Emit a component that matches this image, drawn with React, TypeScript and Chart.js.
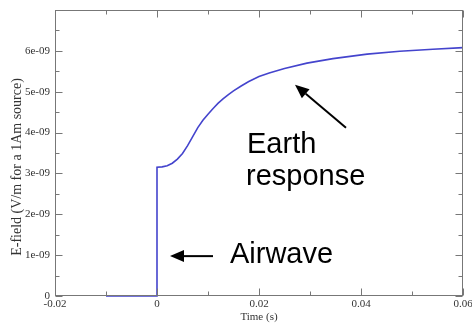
import { useEffect, useRef } from "react";
import { Chart, registerables } from "chart.js";

Chart.register(...registerables);

// Time axis (s)
const timeS = [
  -0.01, 0, 0, 0.001, 0.002, 0.003, 0.004, 0.005, 0.006, 0.007, 0.008, 0.009,
  0.01, 0.011, 0.012, 0.013, 0.014, 0.015, 0.0165, 0.018, 0.02, 0.022, 0.025,
  0.0294, 0.0345, 0.0412, 0.0476, 0.0541, 0.06,
];
// E-field in units of 1e-09 V/m
const eFieldE9 = [
  0, 0, 3.15, 3.16, 3.19, 3.25, 3.35, 3.49, 3.68, 3.9, 4.12, 4.3,
  4.45, 4.59, 4.72, 4.83, 4.93, 5.02, 5.14, 5.25, 5.37, 5.46, 5.57,
  5.7, 5.81, 5.92, 5.99, 6.04, 6.08,
];

const xMin = -0.02;
const xMax = 0.06;
const xStep = 0.01;
const yMinE9 = 0;
const yMaxE9 = 7;
const yStepE9 = 0.5;

const xTitle = "Time (s)";
const yTitle = "E-field (V/m for a 1Am source)";

// annotation labels: [text, time, value(1e-09)]
const earthLines = ["Earth", "response"];
const earthLineTimes = [0.01765, 0.01745];
const earthLineValues = [3.51, 2.71];
const airwaveLabel = "Airwave";
const airwaveAt = [0.01431, 0.8];
// arrows: [tailT, tailV, tipT, tipV]
const earthArrow = [0.03706, 4.12, 0.02706, 5.17];
const airwaveArrow = [0.01098, 0.976, 0.00255, 0.976];

const SERIF = '"Liberation Serif", "Times New Roman", serif';
const SANS = '"Liberation Sans", Arial, sans-serif';
const FRAME = "#777777";
const TEXT = "#333333";
const LINE = "rgb(68, 68, 205)";

function fmtX(v: number): string {
  const k = Math.round(v * 100);
  if (k % 2 !== 0) return "";
  if (k === 0) return "0";
  return (k / 100).toFixed(2);
}
function fmtY(v: number): string {
  const k = Math.round(v * 2e9);
  if (k % 2 !== 0) return "";
  const n = k / 2;
  if (n >= 7) return "";
  if (n === 0) return "0";
  return n + "e-09";
}

function drawArrow(ctx: CanvasRenderingContext2D, x1: number, y1: number, x2: number, y2: number) {
  const ang = Math.atan2(y2 - y1, x2 - x1);
  const hl = 14;
  const hw = 6;
  const bx = x2 - hl * Math.cos(ang);
  const by = y2 - hl * Math.sin(ang);
  ctx.beginPath();
  ctx.moveTo(x1, y1);
  ctx.lineTo(bx, by);
  ctx.stroke();
  ctx.beginPath();
  ctx.moveTo(x2, y2);
  ctx.lineTo(bx + hw * Math.sin(ang), by - hw * Math.cos(ang));
  ctx.lineTo(bx - hw * Math.sin(ang), by + hw * Math.cos(ang));
  ctx.closePath();
  ctx.fill();
}

const framePlugin = {
  id: "frameTicksAnnot",
  afterDraw(chart: any) {
    const { ctx, chartArea: a, scales } = chart;
    const xs = scales.x;
    const ys = scales.y;
    ctx.save();
    // frame
    ctx.strokeStyle = FRAME;
    ctx.lineWidth = 1;
    const L = Math.round(a.left) + 0.5;
    const R = Math.round(a.right) - 0.5;
    const T = Math.round(a.top) + 0.5;
    const B = Math.round(a.bottom) - 0.5;
    ctx.strokeRect(L, T, R - L, B - T);
    // inward ticks
    ctx.beginPath();
    for (const t of xs.ticks) {
      const px = Math.round(xs.getPixelForValue(t.value)) + 0.5;
      const major = Math.round(t.value * 100) % 2 === 0;
      const len = major ? 7 : 4;
      ctx.moveTo(px, B);
      ctx.lineTo(px, B - len);
      ctx.moveTo(px, T);
      ctx.lineTo(px, T + len);
    }
    for (const t of ys.ticks) {
      const py = Math.round(ys.getPixelForValue(t.value)) + 0.5;
      const major = Math.round(t.value * 2e9) % 2 === 0;
      const len = major ? 7 : 4;
      ctx.moveTo(L, py);
      ctx.lineTo(L + len, py);
      ctx.moveTo(R, py);
      ctx.lineTo(R - len, py);
    }
    ctx.stroke();

    // y axis title
    ctx.fillStyle = TEXT;
    ctx.font = "14px " + SERIF;
    ctx.textAlign = "center";
    ctx.textBaseline = "middle";
    ctx.translate(17, 167);
    ctx.rotate(-Math.PI / 2);
    ctx.fillText(yTitle, 0, 0);
    ctx.setTransform(1, 0, 0, 1, 0, 0);

    // annotations
    ctx.fillStyle = "#000";
    ctx.strokeStyle = "#000";
    ctx.font = "29px " + SANS;
    ctx.textAlign = "left";
    ctx.textBaseline = "alphabetic";
    earthLines.forEach((s, i) => {
      ctx.fillText(s, xs.getPixelForValue(earthLineTimes[i]), ys.getPixelForValue(earthLineValues[i] * 1e-9));
    });
    ctx.fillText(airwaveLabel, xs.getPixelForValue(airwaveAt[0]), ys.getPixelForValue(airwaveAt[1] * 1e-9));
    ctx.lineWidth = 2;
    for (const ar of [earthArrow, airwaveArrow]) {
      drawArrow(
        ctx,
        xs.getPixelForValue(ar[0]),
        ys.getPixelForValue(ar[1] * 1e-9),
        xs.getPixelForValue(ar[2]),
        ys.getPixelForValue(ar[3] * 1e-9)
      );
    }
    ctx.restore();
  },
};

export default function App() {
  const ref = useRef<HTMLCanvasElement | null>(null);
  useEffect(() => {
    if (!ref.current) return;
    const points = timeS.map((t, i) => ({ x: t, y: eFieldE9[i] * 1e-9 }));
    const chart = new Chart(ref.current, {
      type: "line",
      data: {
        datasets: [
          {
            data: points,
            borderColor: LINE,
            borderWidth: 1.6,
            pointRadius: 0,
            tension: 0,
            fill: false,
            clip: false,
          } as any,
        ],
      },
      options: {
        animation: false,
        responsive: false,
        maintainAspectRatio: false,
        layout: { padding: { top: 10, right: 9, left: 0, bottom: 0 } },
        plugins: { legend: { display: false }, tooltip: { enabled: false } },
        scales: {
          x: {
            type: "linear",
            min: xMin,
            max: xMax,
            grid: { display: false, drawTicks: false },
            border: { display: false },
            ticks: {
              stepSize: xStep,
              autoSkip: false,
              maxRotation: 0,
              padding: 2,
              color: TEXT,
              font: { family: SERIF, size: 11 },
              callback: (v: any) => fmtX(Number(v)),
            },
            title: {
              display: true,
              text: xTitle,
              color: TEXT,
              font: { family: SERIF, size: 11 },
              padding: { top: 0, bottom: 0 },
            },
            afterFit: (s: any) => {
              s.height = 28;
              s.paddingLeft = 0;
              s.paddingRight = 0;
            },
          },
          y: {
            type: "linear",
            min: yMinE9 * 1e-9,
            max: yMaxE9 * 1e-9,
            grid: { display: false, drawTicks: false },
            border: { display: false },
            ticks: {
              stepSize: yStepE9 * 1e-9,
              autoSkip: false,
              padding: 5,
              color: TEXT,
              font: { family: SERIF, size: 11 },
              callback: (v: any) => fmtY(Number(v)),
            },
            afterFit: (s: any) => {
              s.width = 55;
              s.paddingTop = 0;
              s.paddingBottom = 0;
            },
          },
        },
      } as any,
      plugins: [framePlugin as any],
    });
    return () => chart.destroy();
  }, []);
  return (
    <div style={{ position: "absolute", left: 0, top: 0, width: 472, height: 324, background: "#fff" }}>
      <canvas ref={ref} width={472} height={324} style={{ display: "block" }} />
    </div>
  );
}
